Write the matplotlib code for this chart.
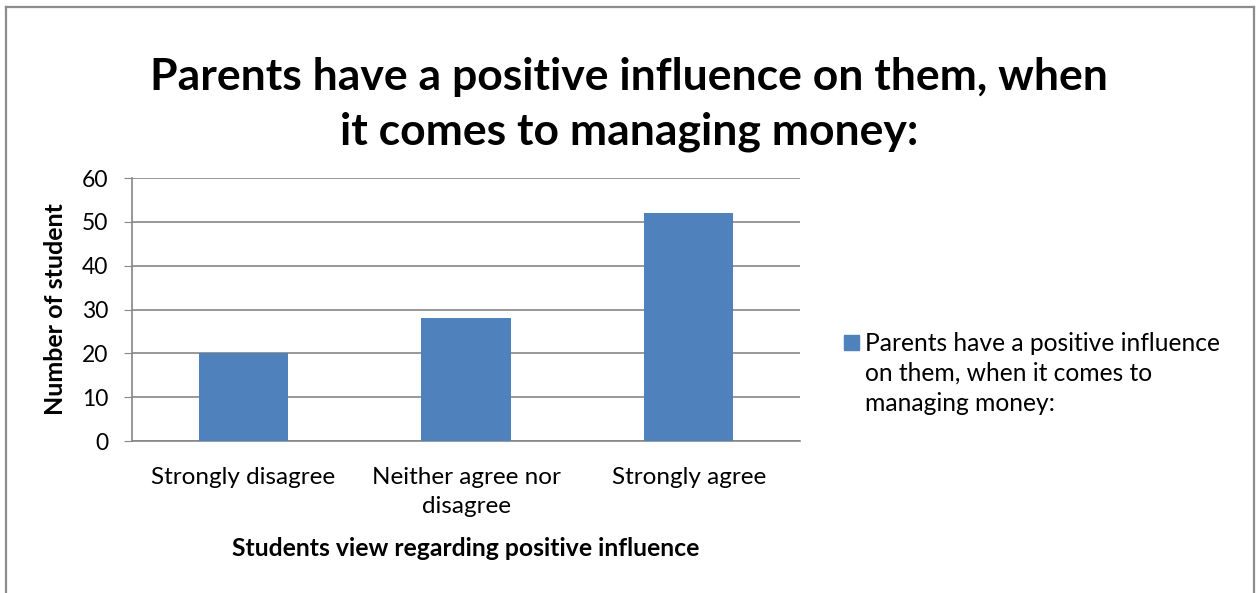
import matplotlib.pyplot as plt
from matplotlib.lines import Line2D
from matplotlib.patches import Rectangle

categories = ['Strongly disagree', 'Neither agree nor\ndisagree', 'Strongly agree']
students = [20, 28, 52]
yticks = [0, 10, 20, 30, 40, 50, 60]
series_name = 'Parents have a positive influence\non them, when it comes to\nmanaging money:'
title = 'Parents have a positive influence on them, when\nit comes to managing money:'

plt.rcParams['font.family'] = ['Lato', 'DejaVu Sans']
bar_col = '#4F81BD'
grid_col = '#868686'

fig = plt.figure(figsize=(12.58, 5.93), dpi=100)
ax = fig.add_axes([0.1049, 0.2563, 0.5311, 0.4435])

x = range(len(categories))
ax.bar(x, students, width=0.4, color=bar_col, zorder=3)
ax.set_xlim(-0.5, len(categories) - 0.5)
ax.set_ylim(0, 60)
ax.set_yticks(yticks)
ax.set_xticks(list(x))
ax.set_xticklabels(categories, fontsize=17.5, linespacing=1.47)
ax.tick_params(axis='y', labelsize=16.5, length=6, color=grid_col, direction='out', pad=11)
ax.tick_params(axis='x', length=0, pad=19)
ax.grid(axis='y', color=grid_col, linewidth=1.2, zorder=0)
for s in ['top', 'right']:
    ax.spines[s].set_visible(False)
for s in ['left', 'bottom']:
    ax.spines[s].set_color(grid_col)
    ax.spines[s].set_linewidth(1.2)

ax.set_ylabel('Number of student', fontsize=18, fontweight='bold')
ax.yaxis.set_label_coords(-0.097, 0.5)
ax.set_xlabel('Students view regarding positive influence', fontsize=17.8, fontweight='bold')
ax.xaxis.set_label_coords(0.5, -0.365)

fig.text(0.5, 0.824, title, ha='center', va='center', fontsize=32, fontweight='bold',
         linespacing=1.42)

# legend: square key next to the first line of the series name
fig.add_artist(Rectangle((0.6709, 0.4098), 0.01192, 0.0253, color=bar_col,
                         transform=fig.transFigure))
fig.text(0.6876, 0.4402, series_name, ha='left', va='top', fontsize=17.7, linespacing=1.36)

# chart border
for xs, ys in [([0.005, 0.005], [0, 0.988]), ([0.997, 0.997], [0, 0.988]),
               ([0.005, 0.997], [0.988, 0.988])]:
    fig.add_artist(Line2D(xs, ys, color='#8c8c8c', lw=1.6, transform=fig.transFigure))

fig.savefig('out.png', dpi=100)
